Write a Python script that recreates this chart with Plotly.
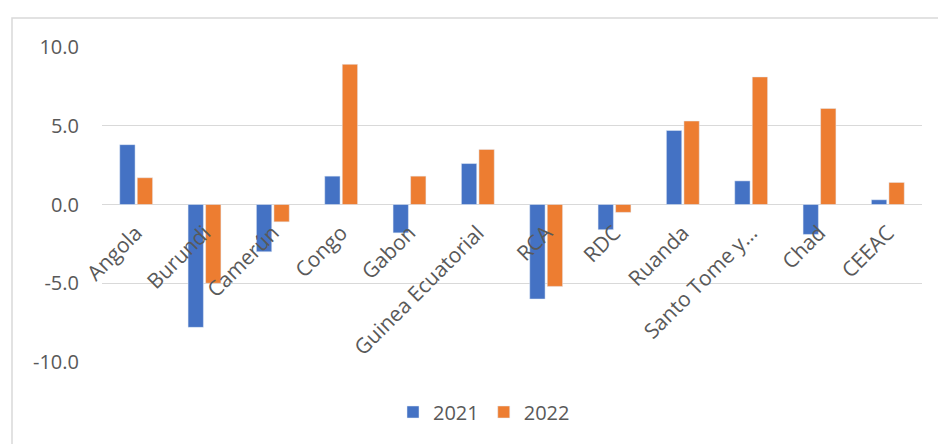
import plotly.graph_objects as go

categories = ["Angola", "Burundi", "Camerún", "Congo", "Gabon", "Guinea Ecuatorial",
              "RCA", "RDC", "Ruanda", "Santo Tome y…", "Chad", "CEEAC"]
values_2021 = [3.8, -7.8, -3.0, 1.8, -1.8, 2.6, -6.0, -1.6, 4.7, 1.5, -1.9, 0.3]
values_2022 = [1.7, -5.0, -1.1, 8.9, 1.8, 3.5, -5.2, -0.5, 5.3, 8.1, 6.1, 1.4]
y_tick_vals = [-10, -5, 0, 5, 10]
y_tick_text = ["-10.0", "-5.0", "0.0", "5.0", "10.0"]

FONT = "Open Sans"
TXT = "#595959"
GRID = "#D9D9D9"

fig = go.Figure()
fig.add_trace(go.Bar(name="2021", x=categories, y=values_2021, marker_color="#4472C4"))
fig.add_trace(go.Bar(name="2022", x=categories, y=values_2022, marker_color="#ED7D31"))

W, H = 938, 444
L, R, T, B = 102, 16, 47, 82
pw, ph = W - L - R, H - T - B

def px_x(p):
    return (p - L) / pw

def px_y(p):
    return (H - B - p) / ph

fig.update_layout(
    width=W, height=H,
    margin=dict(l=L, r=R, t=T, b=B, autoexpand=False),
    paper_bgcolor="white", plot_bgcolor="white",
    barmode="group", bargap=0.487, bargroupgap=0.125,
    font=dict(family=FONT, size=20, color=TXT),
    showlegend=True,
    legend=dict(orientation="h", x=px_x(484), xanchor="center", y=px_y(412), yanchor="middle",
                font=dict(family=FONT, size=20, color=TXT), itemwidth=30,
                traceorder="normal", bgcolor="rgba(0,0,0,0)"),
    xaxis=dict(anchor="free", position=0.5, tickangle=-45, showgrid=False,
               showline=False, ticks="", ticklabelstandoff=11,
               tickfont=dict(family=FONT, size=21, color=TXT),
               automargin=False),
    yaxis=dict(range=[-10, 10], tickvals=y_tick_vals, ticktext=y_tick_text,
               showgrid=True, gridcolor=GRID, gridwidth=1.3,
               zeroline=True, zerolinecolor=GRID, zerolinewidth=1.3,
               ticks="", ticklabelstandoff=22, showline=False,
               tickfont=dict(family=FONT, size=20, color=TXT), automargin=False),
    shapes=[dict(type="rect", xref="paper", yref="paper",
                 x0=px_x(12), x1=px_x(960), y0=px_y(470), y1=px_y(18),
                 line=dict(color=GRID, width=1.5), fillcolor="rgba(0,0,0,0)", layer="below")],
)

fig.write_html("out.html", config={"displayModeBar": False},
               post_script="document.body.style.margin='0';document.body.style.overflow='hidden';")
